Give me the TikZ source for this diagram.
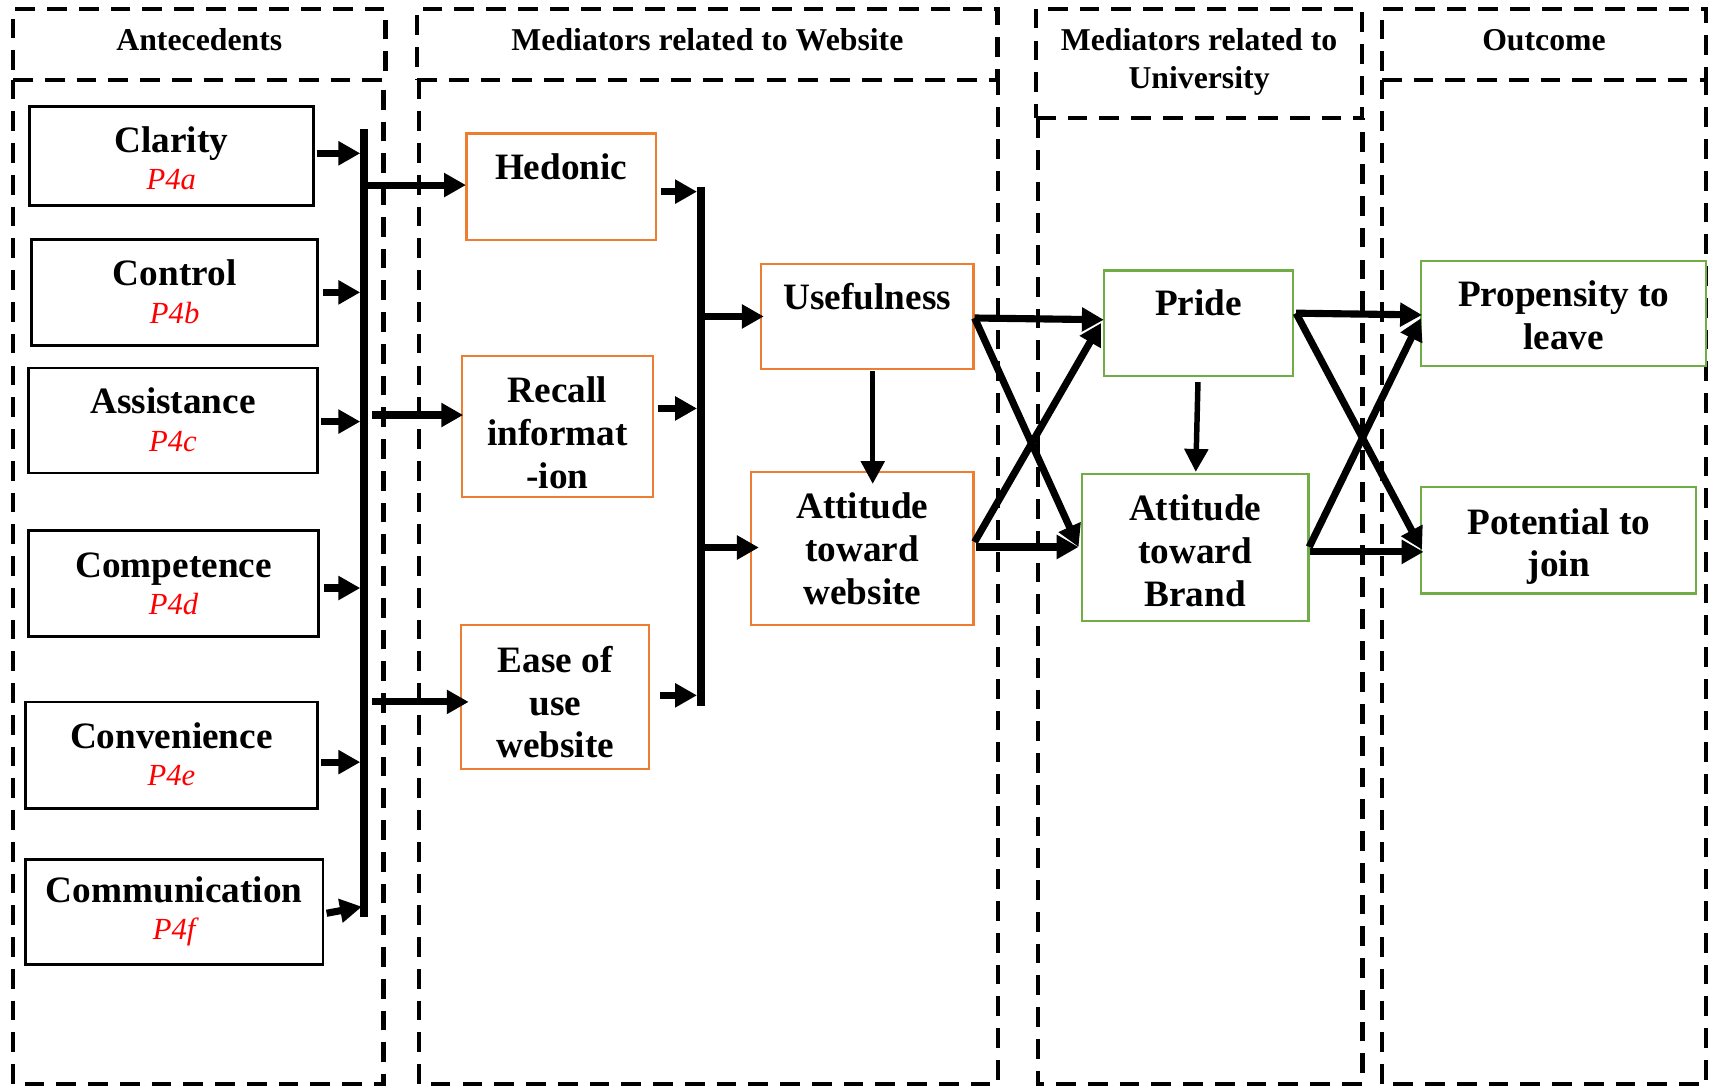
\documentclass[tikz,border=0pt]{standalone}
\usepackage{fontspec}
\setmainfont{Liberation Serif}
\usetikzlibrary{arrows.meta,calc}
\definecolor{webcol}{HTML}{ED7D31}
\definecolor{unicol}{HTML}{70AD47}
\definecolor{propred}{HTML}{FF0000}
% second line of an antecedent box: the proposition code
\newcommand\plabel[1]{\\{\mdseries\itshape\color{propred}\fontsize{28}{33}\selectfont #1}}

\begin{document}
\begin{tikzpicture}[x=1pt,y=-1pt,
  dashline/.style={line width=4pt, dash pattern=on 18pt off 11pt},
  panel/.style={inner sep=0pt},
  panelhead/.style={draw, dashline, inner sep=0pt, align=center, font=\fontsize{29}{34}\selectfont\bfseries},
  onehead/.style={panelhead, text height=19.8pt, text depth=9pt},
  cbox/.style={draw, fill=white, inner sep=0pt, align=center, font=\fontsize{34}{39}\selectfont\bfseries},
  antbox/.style={cbox, line width=2.5pt, font=\fontsize{34}{34}\selectfont\bfseries, text height=56pt, text depth=0pt},
  webbox/.style={cbox, draw=webcol, line width=2pt},
  unibox/.style={cbox, draw=unicol, line width=2pt},
  toplabel/.style={text height=23pt, text depth=37pt},
  flow/.style={line width=6.5pt, -{Triangle[length=20pt,width=21pt]}},
  drop/.style={line width=5pt, -{Triangle[length=21pt,width=21pt]}},
  rail/.style={line width=7pt}
]
\useasboundingbox (0,0) rectangle (1568,993);

% ---- dashed column panels with their headings
\node[onehead, minimum width=340pt, minimum height=65pt] (hA) at (182,40.5) {Antecedents};
\node[panel, minimum width=338pt, minimum height=917pt] (pA) at (181,531.5) {};
\node[onehead, minimum width=530pt, minimum height=65pt] (hW) at (646,40.5) {Mediators related to Website};
\node[panel, minimum width=528pt, minimum height=917pt] (pW) at (647,531.5) {};
\node[panelhead, text height=51.3pt, text depth=6.3pt, minimum width=298pt, minimum height=100pt] (hU) at (1095,58) {Mediators related to\\University};
\node[panel, minimum width=296pt, minimum height=882pt] (pU) at (1096,549) {};
\node[onehead, minimum width=296pt, minimum height=65pt] (hO) at (1410,40.5) {Outcome};
\node[panel, minimum width=296pt, minimum height=917pt] (pO) at (1410,531.5) {};
% column bodies hang below their headings (the heading gives the top edge)
\foreach \p in {pA,pW,pU,pO}
  \draw[dashline] (\p.north west) -- (\p.south west) -- (\p.south east) -- (\p.north east);

% ---- antecedents
\node[antbox, text height=62pt, minimum width=259pt, minimum height=91pt] (clar) at (156.5,142.5) {Clarity\plabel{P4a}};
\node[antbox, minimum width=261pt, minimum height=97pt] (ctrl) at (159.5,267) {Control\plabel{P4b}};
\node[antbox, minimum width=264pt, minimum height=96pt] (assi) at (158,384) {Assistance\plabel{P4c}};
\node[antbox, minimum width=265pt, minimum height=97pt] (comp) at (158.5,533) {Competence\plabel{P4d}};
\node[antbox, minimum width=267pt, minimum height=97pt] (conv) at (156.5,689.5) {Convenience\plabel{P4e}};
\node[antbox, text depth=6pt, minimum width=272pt, minimum height=96pt] (comm) at (159,833) {Communication\plabel{P4f}};

% ---- website mediators
\node[webbox, toplabel, minimum width=173pt, minimum height=97pt] (hedo) at (512.5,170.5) {Hedonic};
\node[webbox, text height=113pt, text depth=0pt, minimum width=174pt, minimum height=129pt] (reca) at (509,389.5) {Recall\\informat\\-ion};
\node[webbox, text height=111pt, text depth=0pt, minimum width=172pt, minimum height=131pt] (ease) at (507,636.5) {Ease of\\use\\website};
\node[webbox, toplabel, text depth=35pt, minimum width=194pt, minimum height=96pt] (usef) at (792,289) {Usefulness};
\node[webbox, minimum width=203pt, minimum height=140pt] (attw) at (787.5,501) {Attitude\\toward\\website};

% ---- university mediators
\node[unibox, toplabel, minimum width=173pt, minimum height=96pt] (prid) at (1094.5,295) {Pride};
\node[unibox, text height=107pt, text depth=0pt, minimum width=207pt, minimum height=134pt] (attb) at (1091.5,500) {Attitude\\toward\\Brand};

% ---- outcomes
\node[unibox, text height=66pt, text depth=0pt, minimum width=260pt, minimum height=96pt] (prop) at (1428,286) {Propensity to\\leave};
\node[unibox, text height=74pt, text depth=7.4pt, minimum width=251pt, minimum height=97pt] (pote) at (1423.5,493.5) {Potential to\\join};

% ---- collecting rails
\coordinate (r1top) at (332.5,118);
\coordinate (r1bot) at (332.5,837);
\coordinate (r1in) at (329,0);
\coordinate (r2top) at (640,170.5);
\coordinate (r2bot) at (640,644.5);
\coordinate (r2in) at (636.5,0);
\draw[rail] (r1top) -- (r1bot);
\draw[rail] (r2top) -- (r2bot);

% antecedents into the first rail
\draw[flow] ($(clar.east)+(2,-2.5)$) -- ($(clar.east -| r1in)+(0,-2.5)$);
\draw[flow] ($(ctrl.east)+(4,0)$) -- (ctrl.east -| r1in);
\draw[flow] ($(assi.east)+(2,1)$) -- ($(assi.east -| r1in)+(0,1)$);
\draw[flow] ($(comp.east)+(4,4)$) -- ($(comp.east -| r1in)+(0,4)$);
\draw[flow] ($(conv.east)+(2,6.5)$) -- ($(conv.east -| r1in)+(0,6.5)$);
\draw[flow] ($(comm.east)+(2,1)$) -- ($(comm.east -| r1in)+(1.5,-5)$);

% first rail out to the website mediators
\draw[flow] ($(hedo.west -| r1top)+(0,-1.5)$) -- ($(hedo.west)+(0.5,-1.5)$);
\draw[flow] ($(reca.west -| r1top)+(7,-10.5)$) -- ($(reca.west)+(2,-10.5)$);
\draw[flow] ($(ease.west -| r1top)+(7,4.5)$) -- ($(ease.west)+(8,4.5)$);

% website mediators into the second rail
\draw[flow] ($(hedo.east)+(4,4.5)$) -- ($(hedo.east -| r2in)+(0,4.5)$);
\draw[flow] ($(reca.east)+(4,-16.5)$) -- ($(reca.east -| r2in)+(0,-16.5)$);
\draw[flow] ($(ease.east)+(9,-1.5)$) -- ($(ease.east -| r2in)+(0,-1.5)$);

% second rail out
\draw[flow] ($(usef.west -| r2top)+(4,0)$) -- ($(usef.west)+(3.5,0)$);
\draw[flow] ($(attw.west -| r2top)+(4,-1)$) -- ($(attw.west)+(8,-1)$);

% within columns
\draw[drop] ($(usef.south)+(5,1)$) -- ($(attw.north)+(9.5,12)$);
\draw[drop] ($(prid.south)+(-0.5,5)$) -- ($(attb.north)+(0.5,-1)$);

% website mediators to university mediators
\draw[flow] ($(usef.east)+(0,1.4)$) -- ($(prid.west)+(1,-3)$);
\draw[flow] ($(usef.east)+(0,1.4)$) -- ($(attb.west)+(-2,-0.5)$);
\draw[flow] ($(attw.east)+(0,-6)$) -- ($(prid.west)+(-1.5,0)$);
\draw[flow] ($(attw.east)+(1.5,-1.5)$) -- ($(attb.west)+(-2,-0.5)$);

% university mediators to outcomes
\draw[flow] ($(prid.east)+(1.6,-9)$) -- ($(prop.west)+(1.6,1.6)$);
\draw[flow] ($(prid.east)+(1.6,-9)$) -- ($(pote.west)+(1.6,8.5)$);
\draw[flow] ($(attb.east)+(-0.4,-0.5)$) -- ($(prop.west)+(0.6,4.6)$);
\draw[flow] ($(attb.east)+(0,4)$) -- ($(pote.west)+(3,10.5)$);
\end{tikzpicture}
\end{document}
